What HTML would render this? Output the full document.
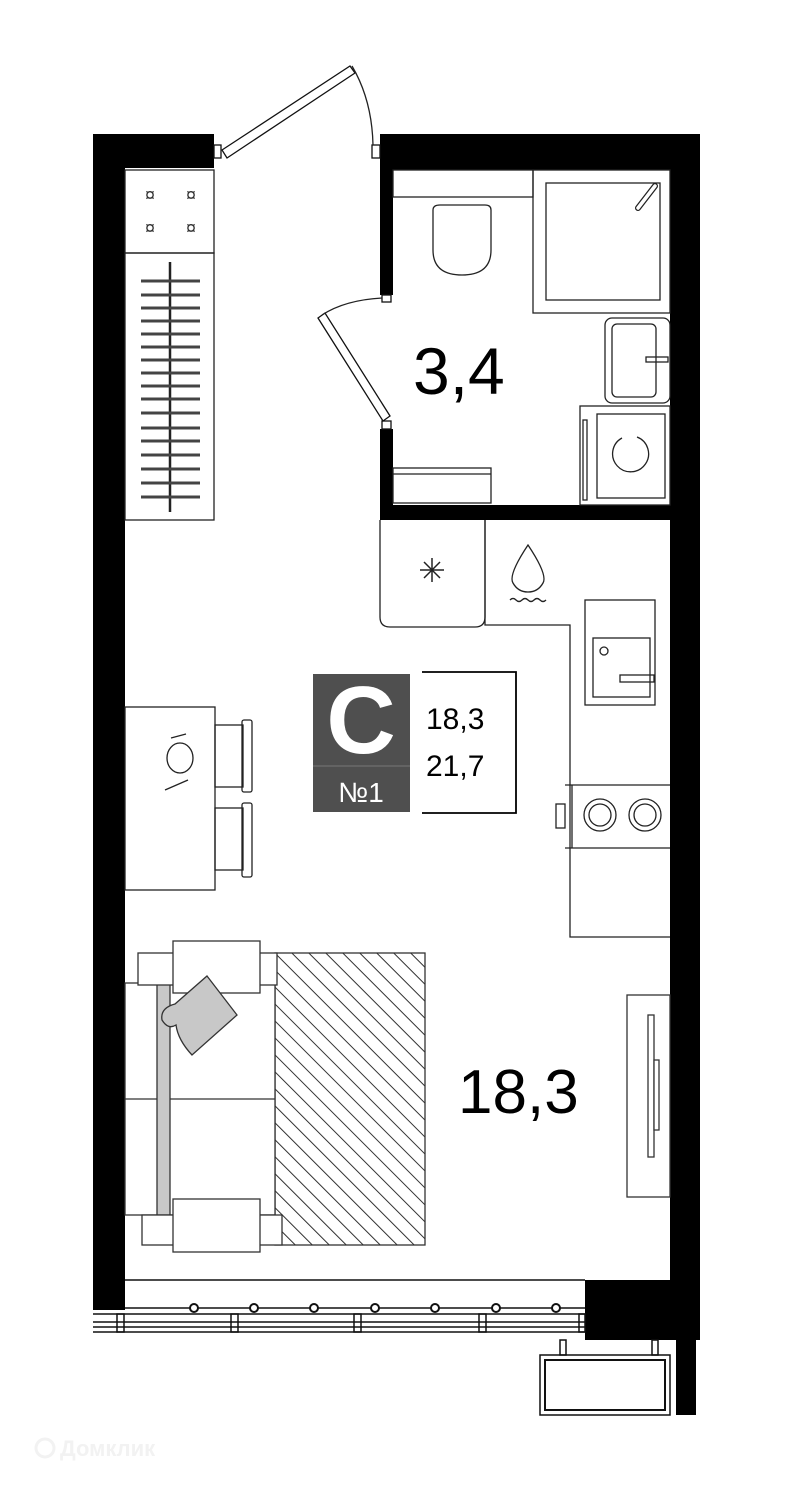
<!DOCTYPE html>
<html><head><meta charset="utf-8"><style>
html,body{margin:0;padding:0;background:#fff;width:812px;height:1490px;overflow:hidden}
svg{display:block}
text{font-family:"Liberation Sans",sans-serif}
</style></head><body>
<svg width="812" height="1490" viewBox="0 0 812 1490" xmlns="http://www.w3.org/2000/svg">
<defs>
<pattern id="hatch" patternUnits="userSpaceOnUse" width="12" height="12" patternTransform="rotate(-45)">
<line x1="0" y1="0" x2="0" y2="12" stroke="#333" stroke-width="2"/>
</pattern>
</defs>
<g fill="#000">
<rect x="93" y="134" width="32" height="1176"/>
<rect x="93" y="134" width="121" height="34"/>
<rect x="380" y="134" width="320" height="36"/>
<rect x="670" y="134" width="30" height="1206"/>
<rect x="380" y="134" width="13" height="161"/>
<rect x="380" y="429" width="13" height="91"/>
<rect x="380" y="505" width="320" height="15"/>
<rect x="585" y="1280" width="115" height="60"/>
<rect x="676" y="1330" width="20" height="85"/>
</g>
<g fill="#fff" stroke="#111" stroke-width="1.3">
<rect x="214" y="145" width="7" height="13"/>
<rect x="372" y="145" width="8" height="13"/>
<rect x="382" y="295" width="9" height="7"/>
<rect x="382" y="421" width="9" height="8"/>
<polygon points="222,150 350,66 355,73 227,158"/>
<polygon points="318,318 325,313 390,416 383,421"/>
</g>
<g fill="none" stroke="#222" stroke-width="1.3">
<path d="M352,66 Q372,100 373,145"/>
<path d="M322,315 Q345,300 382,298"/>
<rect x="393" y="170" width="140" height="27"/>
<path d="M433,210 Q433,205 440,205 L485,205 Q491,205 491,210 L491,250 Q491,275 462,275 Q433,275 433,250 Z"/>
<rect x="533" y="170" width="137" height="143"/>
<rect x="546" y="183" width="114" height="117"/>
<line x1="638" y1="208" x2="655" y2="186" stroke-width="6" stroke-linecap="round"/>
<line x1="638" y1="208" x2="655" y2="186" stroke="#fff" stroke-width="3.5" stroke-linecap="round"/>
<rect x="605" y="318" width="65" height="85" rx="7"/>
<rect x="612" y="324" width="44" height="73" rx="5"/>
<rect x="646" y="357" width="22" height="5"/>
<rect x="580" y="406" width="90" height="99"/>
<rect x="597" y="414" width="68" height="84"/>
<rect x="583" y="420" width="4" height="80"/>
<path d="M622,438 A18,18 0 1,0 637,437" />
<rect x="393" y="468" width="98" height="35"/>
<line x1="393" y1="474" x2="491" y2="474"/>
<rect x="125" y="170" width="89" height="83"/>
<rect x="125" y="253" width="89" height="267"/>
<line x1="170" y1="262" x2="170" y2="512" stroke-width="2.5"/>
</g>
<g stroke="#444" stroke-width="3">
<line x1="141" y1="281" x2="200" y2="281"/><line x1="141" y1="295" x2="200" y2="295"/><line x1="141" y1="308" x2="200" y2="308"/><line x1="141" y1="321" x2="200" y2="321"/><line x1="141" y1="334" x2="200" y2="334"/><line x1="141" y1="347" x2="200" y2="347"/><line x1="141" y1="360" x2="200" y2="360"/><line x1="141" y1="373" x2="200" y2="373"/><line x1="141" y1="386" x2="200" y2="386"/><line x1="141" y1="399" x2="200" y2="399"/><line x1="141" y1="413" x2="200" y2="413"/><line x1="141" y1="428" x2="200" y2="428"/><line x1="141" y1="441" x2="200" y2="441"/><line x1="141" y1="455" x2="200" y2="455"/><line x1="141" y1="469" x2="200" y2="469"/><line x1="141" y1="483" x2="200" y2="483"/><line x1="141" y1="497" x2="200" y2="497"/>
</g>
<g font-size="18" fill="#333" text-anchor="middle">
<text x="150" y="201">¤</text><text x="191" y="201">¤</text><text x="150" y="234">¤</text><text x="191" y="234">¤</text>
</g>
<g fill="none" stroke="#222" stroke-width="1.3">
<path d="M380,520 L380,617 Q380,627 390,627 L475,627 Q485,627 485,617 L485,520"/>
<path d="M485,520 L485,625 L570,625 L570,937 L670,937"/>
<rect x="585" y="600" width="70" height="105"/>
<rect x="593" y="638" width="57" height="59"/>
<circle cx="604" cy="651" r="4"/>
<rect x="620" y="675" width="34" height="7"/>
<path d="M528,545 Q508,575 513,583 Q518,592 528,592 Q538,592 543,583 Q548,575 528,545Z"/>
<path d="M510,600 q3,-3 6,0 t6,0 t6,0 t6,0 t6,0 t6,0"/>
<g stroke-width="1.5"><line x1="432" y1="558" x2="432" y2="582"/><line x1="420" y1="570" x2="444" y2="570"/><line x1="424" y1="562" x2="440" y2="578"/><line x1="440" y1="562" x2="424" y2="578"/></g>
<line x1="565" y1="785" x2="670" y2="785"/>
<line x1="565" y1="848" x2="670" y2="848"/>
<line x1="572" y1="785" x2="572" y2="848"/>
<rect x="556" y="804" width="9" height="24"/>
<circle cx="600" cy="815" r="16"/><circle cx="600" cy="815" r="11"/>
<circle cx="645" cy="815" r="16"/><circle cx="645" cy="815" r="11"/>
<rect x="125" y="707" width="90" height="183"/>
<rect x="215" y="725" width="28" height="62"/>
<rect x="242" y="720" width="10" height="72" rx="2"/>
<rect x="215" y="808" width="28" height="62"/>
<rect x="242" y="803" width="10" height="74" rx="2"/>
<ellipse cx="180" cy="758" rx="13" ry="15"/>
<line x1="171" y1="738" x2="186" y2="734"/>
<line x1="165" y1="790" x2="188" y2="780"/>
<path d="M422,672 L516,672 L516,813 L422,813" stroke="#000" stroke-width="1.8"/>
</g>
<rect x="313" y="674" width="97" height="138" fill="#4f4f4f"/>
<line x1="313" y1="766" x2="410" y2="766" stroke="#777" stroke-width="1"/>
<text x="361" y="753" font-size="96" font-weight="bold" fill="#fff" text-anchor="middle">С</text>
<text x="361" y="802" font-size="28" fill="#fff" text-anchor="middle">№1</text>
<text x="426" y="729" font-size="30" fill="#000">18,3</text>
<text x="426" y="776" font-size="30" fill="#000">21,7</text>
<text x="413" y="394" font-size="66" fill="#000">3,4</text>
<text x="458" y="1113" font-size="62" fill="#000">18,3</text>
<rect x="275" y="953" width="150" height="292" fill="url(#hatch)" stroke="#333" stroke-width="1.3"/>
<g fill="#fff" stroke="#333" stroke-width="1.3">
<rect x="125" y="983" width="150" height="232"/>
<line x1="125" y1="1099" x2="275" y2="1099"/>
<rect x="157" y="983" width="13" height="232" fill="#c8c8c8"/>
<rect x="138" y="953" width="139" height="32"/>
<rect x="173" y="941" width="87" height="52"/>
<rect x="142" y="1215" width="140" height="30"/>
<rect x="173" y="1199" width="87" height="53"/>
<path d="M207,976 L237,1015 L192,1055 Q178,1040 176,1025 Q168,1030 162,1020 Q160,1008 175,1004 Z" fill="#c8c8c8"/>
<rect x="627" y="995" width="43" height="202"/>
<rect x="648" y="1015" width="6" height="142"/>
<rect x="654" y="1060" width="5" height="70"/>
</g>
<g fill="none" stroke="#111" stroke-width="1.5">
<line x1="125" y1="1280" x2="585" y2="1280"/>
<line x1="125" y1="1308" x2="585" y2="1308"/>
<line x1="93" y1="1314" x2="585" y2="1314"/>
<line x1="93" y1="1322" x2="585" y2="1322"/>
<line x1="93" y1="1327" x2="585" y2="1327"/>
<line x1="93" y1="1332" x2="585" y2="1332"/>
<rect x="117" y="1314" width="7" height="18"/><rect x="231" y="1314" width="7" height="18"/><rect x="354" y="1314" width="7" height="18"/><rect x="479" y="1314" width="7" height="18"/><rect x="579" y="1314" width="6" height="18"/>
<rect x="560" y="1340" width="6" height="15"/><rect x="652" y="1340" width="6" height="15"/>
<rect x="540" y="1355" width="130" height="60"/>
<rect x="545" y="1360" width="120" height="50" stroke-width="2"/>
</g>
<g fill="#fff" stroke="#111" stroke-width="2">
<circle cx="194" cy="1308" r="4"/><circle cx="254" cy="1308" r="4"/><circle cx="314" cy="1308" r="4"/><circle cx="375" cy="1308" r="4"/><circle cx="435" cy="1308" r="4"/><circle cx="496" cy="1308" r="4"/><circle cx="556" cy="1308" r="4"/>
</g>
<text x="60" y="1456" font-size="22" font-weight="bold" fill="#f2f2f2">Домклик</text>
<circle cx="45" cy="1448" r="9" fill="none" stroke="#f2f2f2" stroke-width="3"/>
</svg>
</body></html>
